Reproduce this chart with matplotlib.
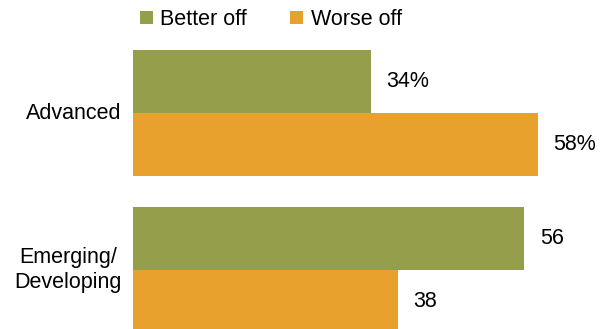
import matplotlib.pyplot as plt
import numpy as np

plt.rcParams['font.family'] = ['Liberation Sans', 'DejaVu Sans']

categories = ['Advanced', 'Emerging/\nDeveloping']
better_off = [34, 56]
worse_off = [58, 38]
better_labels = ['34%', '56']
worse_labels = ['58%', '38']

green = '#959e4a'
orange = '#e9a12e'

fig = plt.figure(figsize=(6.08, 3.29), dpi=100)
ax = fig.add_axes([133 / 608, 0, 1 - 133 / 608, 1])

y = np.arange(len(categories))
h = 0.40
b1 = ax.barh(y - h / 2, better_off, height=h, color=green, label='Better off')
b2 = ax.barh(y + h / 2, worse_off, height=h, color=orange, label='Worse off')

for i in range(len(categories)):
    ax.text(better_off[i] + 2.3, y[i] - h / 2, better_labels[i], va='center', ha='left', fontsize=15.5)
    ax.text(worse_off[i] + 2.1, y[i] + h / 2, worse_labels[i], va='center', ha='left', fontsize=15.5)
    ax.text(-1.6, y[i], categories[i], va='center', ha='right', fontsize=15.5,
            multialignment='center', linespacing=1.3)

ax.set_xlim(0, 68)
ax.set_ylim(1.376, -0.72)
ax.axis('off')

fig.legend(handles=[b1, b2], loc='upper left', bbox_to_anchor=(140 / 608, 0.972), ncol=2,
           frameon=False, fontsize=15.5, handlelength=0.6, handleheight=0.6,
           handletextpad=0.35, columnspacing=2.0, borderaxespad=0, borderpad=0)

fig.savefig('out.png', dpi=100)
